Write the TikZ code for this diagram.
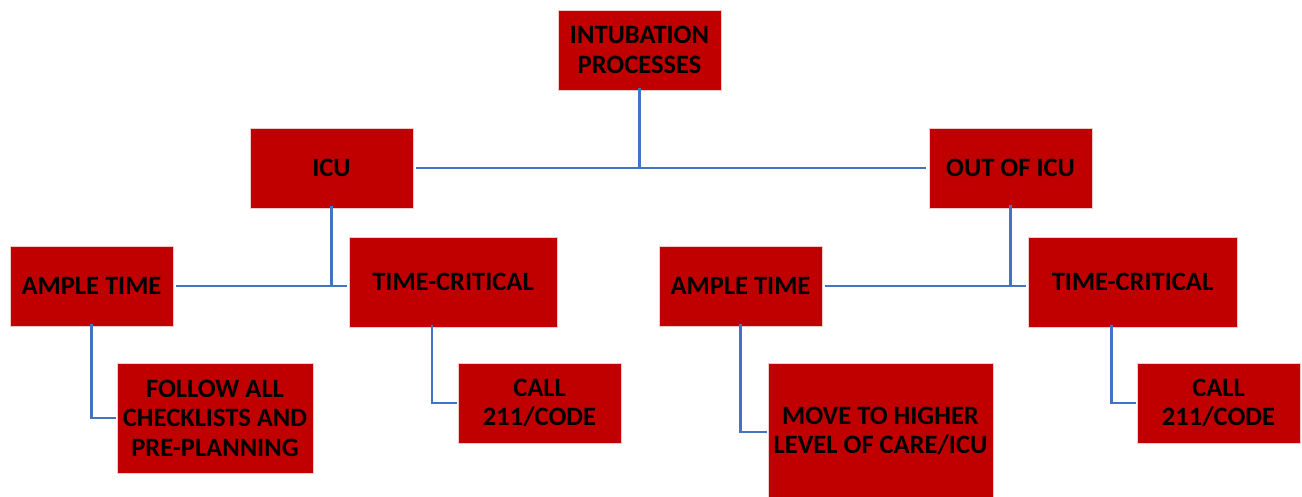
\documentclass[tikz,border=0pt]{standalone}
\usepackage{fontspec}
\setmainfont{Carlito}
\definecolor{boxred}{HTML}{C00000}
\definecolor{linkblue}{HTML}{4472C4}
\definecolor{edgepink}{HTML}{F2C8C8}
\begin{document}
\begin{tikzpicture}[x=1pt,y=-1pt,
  box/.style={fill=boxred,draw=edgepink,line width=0.6pt,inner sep=0pt,
    align=center,font=\fontsize{26.5}{29.5}\selectfont\bfseries,text=black},
  link/.style={draw=linkblue,line width=2.6pt}]
\useasboundingbox (0,0) rectangle (1302,497);
% boxes (centre, size)
\node[box,minimum width=163,minimum height=80] (top) at (639.5,50) {INTUBATION\\PROCESSES};
\node[box,minimum width=163,minimum height=80] (icu) at (331.5,168) {ICU};
\node[box,minimum width=163,minimum height=80] (out) at (1010.5,168) {OUT OF ICU};
\node[box,minimum width=163,minimum height=80] (amp1) at (91.5,286) {AMPLE TIME};
\node[box,minimum width=208,minimum height=90] (tc1) at (453,282) {TIME-CRITICAL};
\node[box,minimum width=163,minimum height=80] (amp2) at (740.5,286) {AMPLE TIME};
\node[box,minimum width=209,minimum height=90] (tc2) at (1132.5,282) {TIME-CRITICAL};
\node[box,minimum width=196,minimum height=110] (follow) at (215,418) {FOLLOW ALL\\CHECKLISTS AND\\PRE-PLANNING};
\node[box,minimum width=163,minimum height=80] (call1) at (539.5,403) {CALL\\211/CODE};
\node[box,minimum width=225,minimum height=136] (move) at (880.5,431) {MOVE TO HIGHER\\LEVEL OF CARE/ICU};
\node[box,minimum width=163,minimum height=80] (call2) at (1218.5,403) {CALL\\211/CODE};
% junctions
\coordinate (j0) at (top.south |- icu.east);
\coordinate (j1) at (icu.south |- amp1.east);
\coordinate (j2) at (out.south |- amp2.east);
\coordinate (k1) at (amp1.south |- follow.west);
\coordinate (t1) at ([xshift=-21pt]tc1.south);
\coordinate (k2) at (t1 |- call1.west);
\coordinate (k3) at (amp2.south |- 0,432);
\coordinate (t2) at ([xshift=-21pt]tc2.south);
\coordinate (k4) at (t2 |- call2.west);
% connectors
\draw[link] ([yshift=2pt]top.south) -- (j0);
\draw[link] ([xshift=3pt]icu.east) -- ([xshift=-3pt]out.west);
\draw[link] ([yshift=2pt]icu.south) -- (j1);
\draw[link] ([xshift=3pt]amp1.east) -- ([xshift=-2pt]tc1.west |- amp1.east);
\draw[link] ([yshift=3pt]out.south) -- (j2);
\draw[link] ([xshift=3pt]amp2.east) -- ([xshift=-2pt]tc2.west |- amp2.east);
\draw[link] ([yshift=2pt]amp1.south) -- (k1) -- ([xshift=-1pt]follow.west);
\draw[link] ([yshift=2pt]t1) -- (k2) -- ([xshift=-1pt]call1.west);
\draw[link] ([yshift=2pt]amp2.south) -- (k3) -- ([xshift=-1pt]move.west |- k3);
\draw[link] ([yshift=2pt]t2) -- (k4) -- ([xshift=-1pt]call2.west);
\end{tikzpicture}
\end{document}
